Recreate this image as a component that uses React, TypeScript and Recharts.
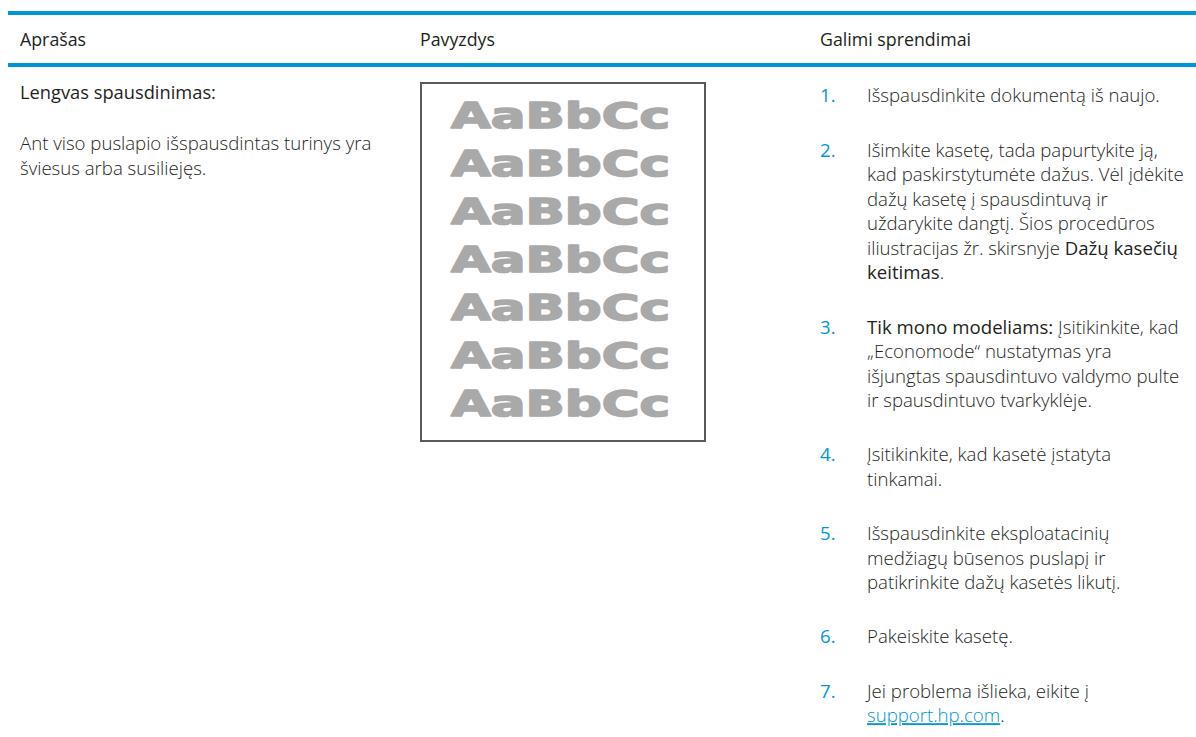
import React from "react";
import { Surface, Rectangle } from "recharts";

const headers = ["Aprašas", "Pavyzdys", "Galimi sprendimai"];
const problemTitle = "Lengvas spausdinimas:";
const problemLines = ["Ant viso puslapio išspausdintas turinys yra", "šviesus arba susiliejęs."];
const sampleRows = ["AaBbCc", "AaBbCc", "AaBbCc", "AaBbCc", "AaBbCc", "AaBbCc", "AaBbCc"];
const stepNumbers = ["1.", "2.", "3.", "4.", "5.", "6.", "7."];
const steps: string[][] = [
  ["Išspausdinkite dokumentą iš naujo."],
  [
    "Išimkite kasetę, tada papurtykite ją,",
    "kad paskirstytumėte dažus. Vėl įdėkite",
    "dažų kasetę į spausdintuvą ir",
    "uždarykite dangtį. Šios procedūros",
    "iliustracijas žr. skirsnyje **Dažų kasečių**",
    "**keitimas**.",
  ],
  [
    "**Tik mono modeliams:** Įsitikinkite, kad",
    "„Economode“ nustatymas yra",
    "išjungtas spausdintuvo valdymo pulte",
    "ir spausdintuvo tvarkyklėje.",
  ],
  ["Įsitikinkite, kad kasetė įstatyta", "tinkamai."],
  ["Išspausdinkite eksploatacinių", "medžiagų būsenos puslapį ir", "patikrinkite dažų kasetės likutį."],
  ["Pakeiskite kasetę."],
  ["Jei problema išlieka, eikite į", "[[support.hp.com]]."],
];

const W = 1196;
const H = 737;
const BLUE = "#0096D6";
const INK = "#231F20";
const FONT = "'Open Sans', 'Noto Sans', sans-serif";
const FS = 18.6;
const FS_HEAD = 17.8;
const FS_TITLE = 18.3;

function parseLine(line: string) {
  const parts: { t: string; k: "n" | "b" | "l" }[] = [];
  const re = /(\*\*[^*]+\*\*|\[\[[^\]]+\]\])/g;
  let last = 0;
  let m: RegExpExecArray | null;
  while ((m = re.exec(line))) {
    if (m.index > last) parts.push({ t: line.slice(last, m.index), k: "n" });
    const s = m[0];
    if (s.startsWith("**")) parts.push({ t: s.slice(2, -2), k: "b" });
    else parts.push({ t: s.slice(2, -2), k: "l" });
    last = m.index + s.length;
  }
  if (last < line.length) parts.push({ t: line.slice(last), k: "n" });
  return parts;
}

function Line({ x, y, line }: { x: number; y: number; line: string }) {
  const parts = parseLine(line);
  return (
    <text x={x} y={y} fontFamily={FONT} fontSize={FS} fill={INK} fontWeight={300} style={{ whiteSpace: "pre" }}>
      {parts.map((p, i) => (
        <tspan
          key={i}
          fontWeight={p.k === "b" ? 500 : 300}
          fill={p.k === "l" ? BLUE : INK}
          style={p.k === "l" ? { textDecoration: "underline" } : undefined}
        >
          {p.t}
        </tspan>
      ))}
    </text>
  );
}

export default function App() {
  const colX = [20, 420, 820];
  const textX = 867;
  const lineH = 24.5;
  const itemStep = 54.3;
  const base = 6.4;

  let cy = 96;
  const stepEls: React.ReactNode[] = [];
  steps.forEach((lines, i) => {
    const startY = cy;
    stepEls.push(
      <text key={`n${i}`} x={colX[2]} y={startY + base} fontFamily={FONT} fontSize={FS} fill={BLUE} fontWeight={400}>
        {stepNumbers[i]}
      </text>
    );
    lines.forEach((ln, j) => {
      stepEls.push(<Line key={`l${i}-${j}`} x={textX} y={startY + j * lineH + base} line={ln} />);
    });
    cy = startY + (lines.length - 1) * lineH + itemStep;
  });

  return (
    <div style={{ position: "fixed", left: 0, top: 0, width: W, height: H, background: "#fff" }}>
      <Surface width={W} height={H} viewBox={{ x: 0, y: 0, width: W, height: H }}>
        <rect x={0} y={0} width={W} height={H} fill="#fff" />
        <Rectangle x={8} y={11} width={W - 8} height={4} fill={BLUE} />
        <Rectangle x={8} y={63} width={W - 8} height={4} fill={BLUE} />
        {headers.map((h, i) => (
          <text key={h} x={colX[i]} y={40 + base} fontFamily={FONT} fontSize={FS_HEAD} fill={INK} fontWeight={400}>
            {h}
          </text>
        ))}
        <text x={colX[0]} y={93 + base} fontFamily={FONT} fontSize={FS_TITLE} fill={INK} fontWeight={400}>
          {problemTitle}
        </text>
        {problemLines.map((ln, i) => (
          <Line key={ln} x={colX[0]} y={144 + i * lineH + base} line={ln} />
        ))}
        <Rectangle x={421} y={83} width={284} height={358} fill="#fff" stroke="#5a5a5a" strokeWidth={2} />
        {sampleRows.map((s, i) => (
          <text
            key={i}
            x={451}
            y={114 + i * 48 + 13.5}
            fontFamily="'DejaVu Sans', 'Liberation Sans', Arial, sans-serif"
            fontWeight={700}
            fontSize={36}
            fill="#A9A9A9"
            stroke="#A9A9A9"
            strokeWidth={1.6}
            strokeLinejoin="round"
            textLength={219}
            lengthAdjust="spacingAndGlyphs"
          >
            {s}
          </text>
        ))}
        {stepEls}
      </Surface>
    </div>
  );
}
